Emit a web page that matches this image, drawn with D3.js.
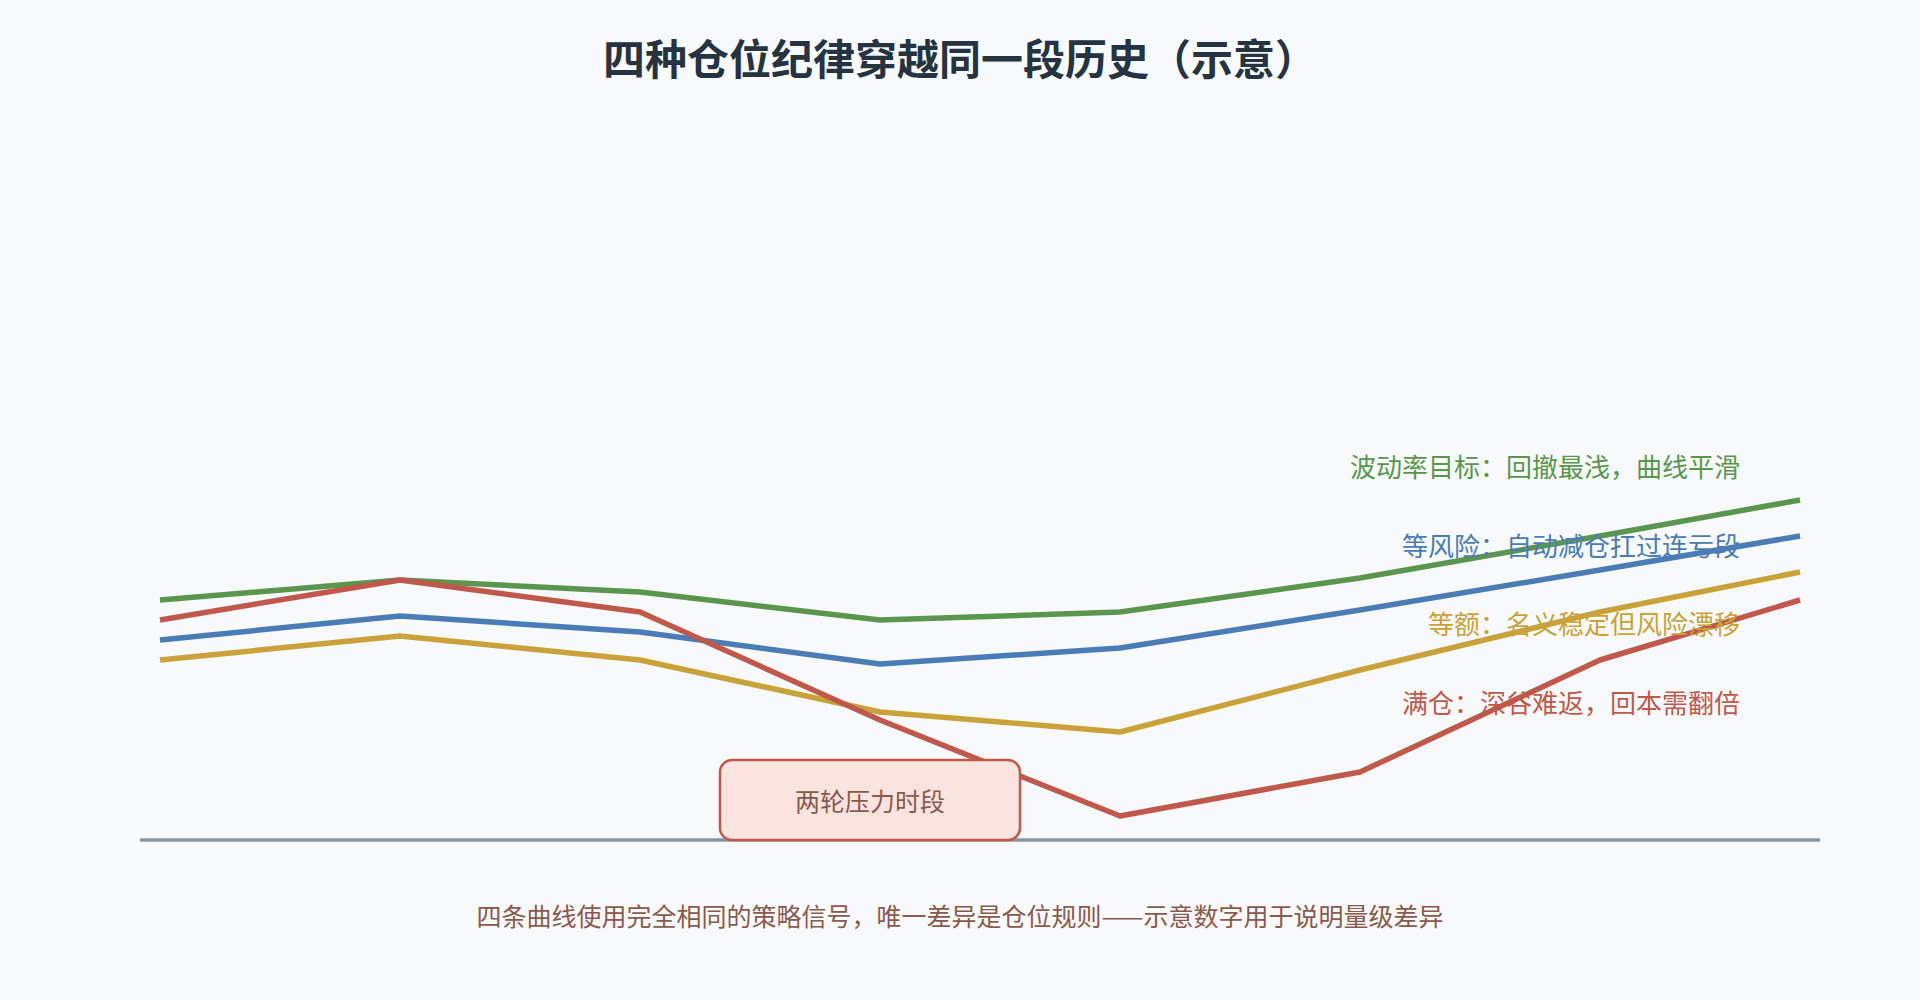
<!DOCTYPE html>
<html>
<head>
<meta charset="utf-8">
<script src="https://cdn.jsdelivr.net/npm/d3@7"></script>
<style>
  html, body { margin: 0; padding: 0; background: #f7f9fa; }
  svg { display: block; font-family: "Noto Sans CJK SC", "Noto Sans", sans-serif; }
</style>
</head>
<body>
<div class="chart"></div>
<script>
// 时间轴（月）
const months = [0, 6, 12, 18, 24, 30, 36, 41]

// 四条净值曲线（示意）
const volTarget   = [100, 105, 102, 95, 97, 105.5, 116, 125]
const equalRisk   = [90, 96, 92, 84, 88, 97.5, 107.5, 116]
const equalAmount = [85, 91, 85, 72, 67, 82.5, 97, 107]
const fullPosition = [95, 105, 97, 70, 46, 57, 85, 100]

const seriesNames = ['波动率目标：回撤最浅，曲线平滑', '等风险：自动减仓扛过连亏段', '等额：名义稳定但风险漂移', '满仓：深谷难返，回本需翻倍']
const seriesColors = ['#5b964f', '#4a7cb6', '#c9a23a', '#c0594c']

// 压力时段（月）
const stressPeriod = [14, 21.5]
const stressLabel = '两轮压力时段'

const title = '四种仓位纪律穿越同一段历史（示意）'
const footnote = '四条曲线使用完全相同的策略信号，唯一差异是仓位规则——示意数字用于说明量级差异'

let width = 1920, height = 1000

const svg = d3.select('.chart')
  .append('svg')
  .attr('width', width)
  .attr('height', height)

svg.append('rect')
  .attr('width', width)
  .attr('height', height)
  .attr('fill', '#f7f9fa')

// 标题
svg.append('text')
  .text(title)
  .attr('x', width / 2)
  .attr('y', 75)
  .attr('text-anchor', 'middle')
  .style('font-size', '42px')
  .style('font-weight', 700)
  .attr('fill', '#263340')

// 比例尺
const xScale = d3.scaleLinear()
  .domain([0, 41])
  .range([160, 1800])

const yScale = d3.scaleLinear()
  .domain([40, 190])
  .range([840, 240])

// 底部基线
svg.append('line')
  .attr('x1', xScale(0) - 20)
  .attr('x2', xScale(41) + 20)
  .attr('y1', yScale(40))
  .attr('y2', yScale(40))
  .attr('stroke', '#8a94a3')
  .attr('stroke-width', 3.5)

const series = [volTarget, equalRisk, equalAmount, fullPosition]

const line = d3.line()
  .x((d, i) => xScale(months[i]))
  .y(d => yScale(d))

svg.append('g')
  .selectAll('path')
  .data(series)
  .enter()
  .append('path')
  .attr('d', d => line(d))
  .attr('fill', 'none')
  .attr('stroke', (d, i) => seriesColors[i])
  .attr('stroke-width', 5.5)
  .attr('stroke-linejoin', 'round')

// 曲线说明
svg.append('g')
  .selectAll('text')
  .data(seriesNames)
  .enter()
  .append('text')
  .text(d => d)
  .attr('x', 1740)
  .attr('y', (d, i) => 477 + i * 78.5)
  .attr('text-anchor', 'end')
  .style('font-size', '26px')
  .attr('fill', (d, i) => seriesColors[i])

// 压力时段标注
const box = svg.append('g')
box.append('rect')
  .attr('x', xScale(stressPeriod[0]))
  .attr('y', yScale(40) - 80)
  .attr('width', xScale(stressPeriod[1]) - xScale(stressPeriod[0]))
  .attr('height', 80)
  .attr('rx', 12)
  .attr('fill', '#fbe3df')
  .attr('stroke', '#c0594c')
  .attr('stroke-width', 2.5)

box.append('text')
  .text(stressLabel)
  .attr('x', (xScale(stressPeriod[0]) + xScale(stressPeriod[1])) / 2)
  .attr('y', 811)
  .attr('text-anchor', 'middle')
  .style('font-size', '25px')
  .attr('fill', '#8a5a4e')

// 脚注
svg.append('text')
  .text(footnote)
  .attr('x', width / 2)
  .attr('y', 926)
  .attr('text-anchor', 'middle')
  .style('font-size', '25px')
  .attr('fill', '#8a5a4e')
</script>
</body>
</html>
